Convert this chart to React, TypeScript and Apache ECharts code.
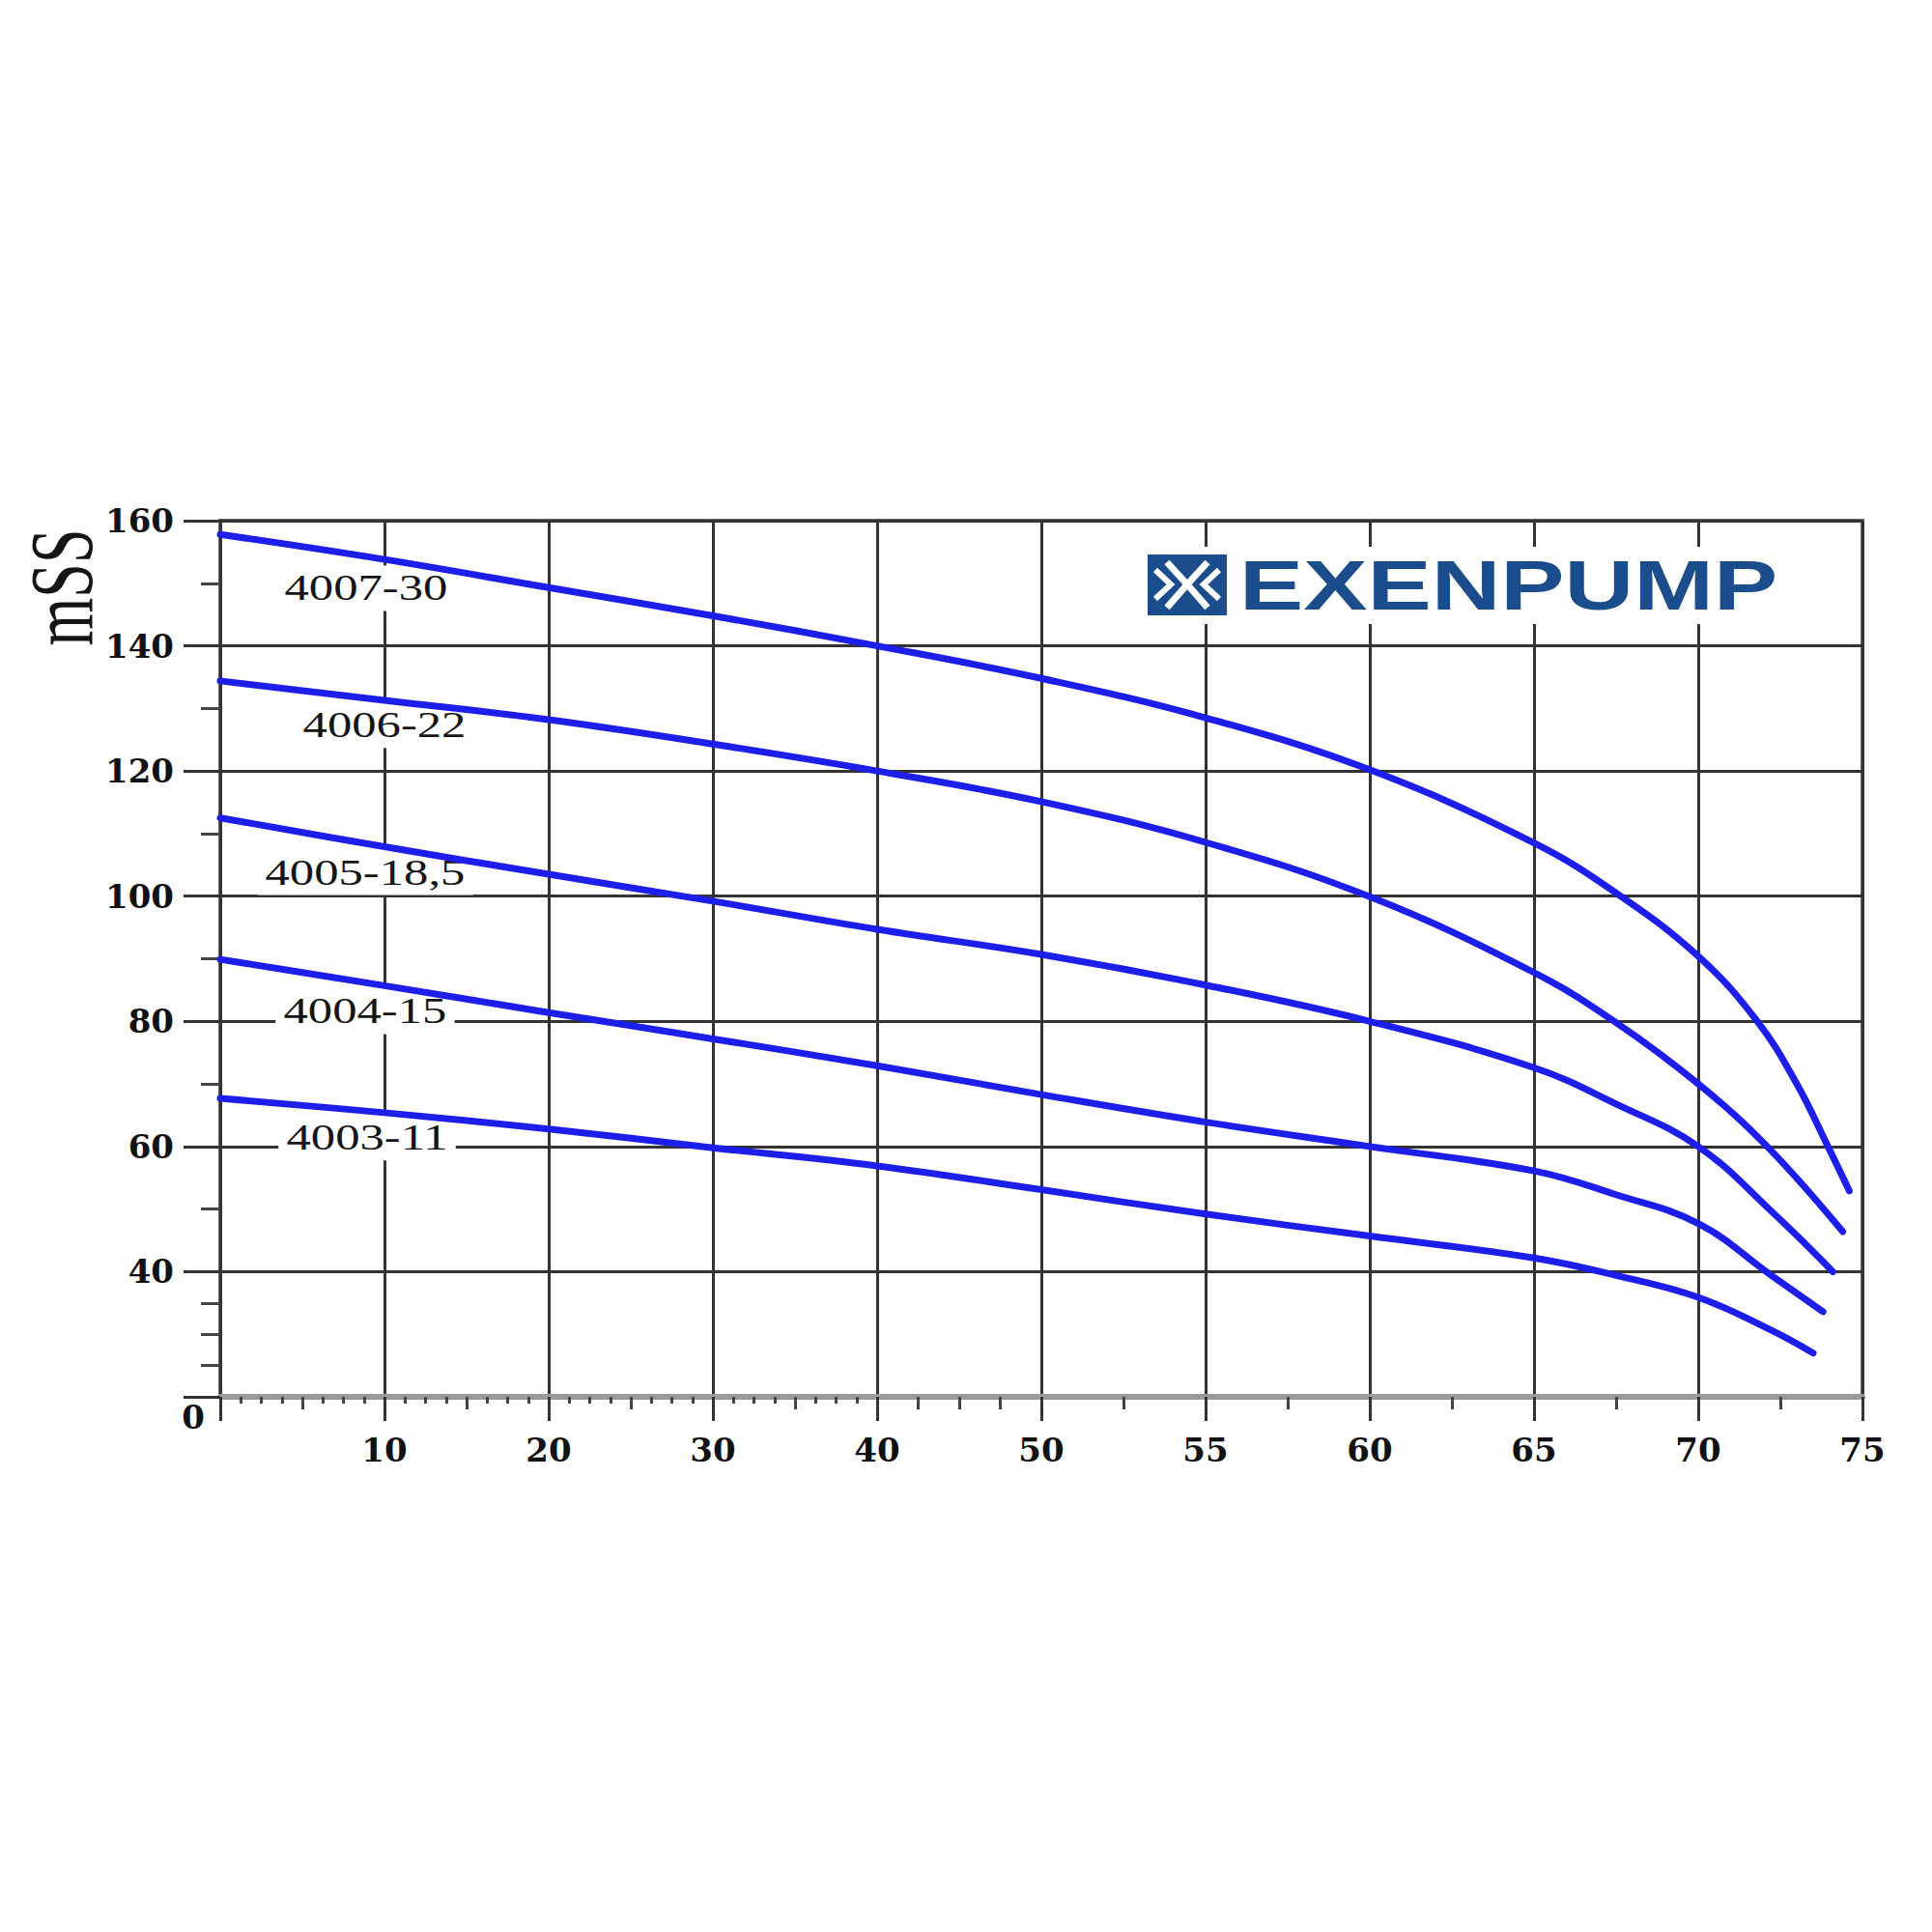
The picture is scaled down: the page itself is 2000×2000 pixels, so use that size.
import React, { useEffect, useRef } from "react";
import * as echarts from "echarts";

// ---- axis definitions ----
const xTickFlows = [0, 10, 20, 30, 40, 50, 55, 60, 65, 70, 75];
const xTickLabels = ["", "10", "20", "30", "40", "50", "55", "60", "65", "70", "75"];
const xSmallTicks = [
  1.25, 2.5, 3.75, 6.25, 7.5, 8.75,
  11.25, 12.5, 13.75, 16.25, 17.5, 18.75,
  21.25, 22.5, 23.75, 26.25, 27.5, 28.75,
  31.25, 32.5, 33.75, 36.25, 37.5, 38.75,
];
const xMidTicks = [5, 15, 25, 35, 42.5, 45, 47.5, 52.5, 57.5, 62.5, 67.5, 72.5];
const yTickValues = [20, 40, 60, 80, 100, 120, 140, 160];
const yTickLabels = ["0", "40", "60", "80", "100", "120", "140", "160"];
const yMinorTicks = [25, 30, 35, 50, 70, 90, 110, 130, 150];

// ---- curves ----
const curveNames = ["4007-30", "4006-22", "4005-18,5", "4004-15", "4003-11"];
const flow4007 = [0, 10, 20, 30, 40, 50, 55, 60, 65, 67.5, 70, 71.8, 73, 73.95, 74.6];
const head4007 = [157.8, 153.8, 149.3, 144.8, 140, 134.8, 128.5, 120.2, 108.5, 100.5, 90.4, 80, 70, 60, 52.9];
const flow4006 = [0, 10, 20, 30, 40, 50, 55, 60, 65, 67.5, 70, 72.1, 74.4];
const head4006 = [134.4, 131.3, 128.2, 124.3, 120, 115.1, 108.6, 99.9, 87.8, 79.8, 70, 60, 46.4];
const flow4005 = [0, 10, 20, 30, 40, 50, 55, 60, 65, 67.5, 70, 72.2, 74.1];
const head4005 = [112.5, 107.9, 103.5, 99.2, 94.7, 90.7, 85.8, 80, 72.6, 66.8, 60, 49.8, 40];
const flow4004 = [0, 10, 20, 30, 40, 50, 55, 60, 65, 67.5, 70, 72.2, 73.8];
const head4004 = [89.9, 85.7, 81.4, 77.2, 72.9, 68.3, 63.9, 60, 56.1, 52.3, 47.7, 39.5, 33.6];
const flow4003 = [0, 10, 20, 30, 40, 50, 55, 60, 65, 67.5, 70, 72.2, 73.5];
const head4003 = [67.7, 65.4, 62.8, 59.8, 56.9, 53.1, 49.2, 45.7, 42.2, 39.4, 35.9, 30.7, 27];

const curveFlows = [flow4007, flow4006, flow4005, flow4004, flow4003];
const curveHeads = [head4007, head4006, head4005, head4004, head4003];

// label anchor points (flow, head)
const labelFlows = [8.88, 10.0, 8.82, 8.82, 8.94];
const labelHeads = [149.2, 127.3, 103.8, 81.6, 61.4];

const LINE_BLUE = "#1e1eeb";
const GRID_DARK = "#333333";
const LOGO_BLUE = "#1b4c8c";

// piecewise mapping of flow to equally-spaced axis position
function toPos(q: number): number {
  for (let i = 0; i < xTickFlows.length - 1; i++) {
    const a = xTickFlows[i];
    const b = xTickFlows[i + 1];
    if (q <= b || i === xTickFlows.length - 2) {
      return i + (q - a) / (b - a);
    }
  }
  return 0;
}

const labelFont = {
  fontFamily: "'DejaVu Serif', serif",
  fontSize: 34,
  fontWeight: "bold" as const,
  color: "#111",
};

export default function App() {
  const ref = useRef<HTMLDivElement>(null);

  useEffect(() => {
    document.body.style.margin = "0";
    if (!ref.current) return;
    const chart = echarts.init(ref.current, null, { renderer: "svg" });

    const series = curveNames.map((name, i) => ({
      name,
      type: "line",
      xAxisIndex: 0,
      yAxisIndex: 0,
      showSymbol: false,
      smooth: 0.4,
      z: 5,
      lineStyle: { color: LINE_BLUE, width: 7, cap: "round", join: "round" },
      data: curveFlows[i].map((f, j) => [toPos(f), curveHeads[i][j]]),
    }));

    const option: any = {
      animation: false,
      backgroundColor: "#ffffff",
      grid: {
        left: 228,
        top: 539,
        width: 1700,
        height: 907,
        show: true,
        borderColor: "#666",
        borderWidth: 4,
        backgroundColor: "transparent",
      },
      xAxis: [
        {
          type: "value",
          min: 0,
          max: xTickFlows.length - 1,
          interval: 1,
          position: "bottom",
          axisLine: { show: true, lineStyle: { color: "#9a9a9a", width: 6 } },
          axisTick: { show: true, length: 25, lineStyle: { color: GRID_DARK, width: 3 } },
          splitLine: { show: true, lineStyle: { color: GRID_DARK, width: 3 } },
          axisLabel: {
            ...labelFont,
            margin: 38,
            formatter: (v: number) => xTickLabels[Math.round(v)] ?? "",
          },
        },
        {
          type: "value",
          min: 0,
          max: xTickFlows.length - 1,
          position: "bottom",
          axisLine: { show: false },
          axisLabel: { show: false },
          splitLine: { show: false },
          axisTick: {
            show: true,
            length: 7,
            customValues: xSmallTicks.map(toPos),
            lineStyle: { color: "#444", width: 3 },
          },
        },
        {
          type: "value",
          min: 0,
          max: xTickFlows.length - 1,
          position: "bottom",
          axisLine: { show: false },
          axisLabel: { show: false },
          splitLine: { show: false },
          axisTick: {
            show: true,
            length: 13,
            customValues: xMidTicks.map(toPos),
            lineStyle: { color: "#444", width: 3 },
          },
        },
      ],
      yAxis: [
        {
          type: "value",
          min: 20,
          max: 160,
          interval: 20,
          position: "left",
          axisLine: { show: true, lineStyle: { color: GRID_DARK, width: 3 } },
          axisTick: { show: true, length: 38, lineStyle: { color: GRID_DARK, width: 3 } },
          splitLine: { show: true, lineStyle: { color: GRID_DARK, width: 3 } },
          axisLabel: {
            ...labelFont,
            margin: 16,
            formatter: (v: number) => {
              const idx = yTickValues.indexOf(v);
              const t = idx >= 0 ? yTickLabels[idx] : "";
              return idx === 0 ? `{z|${t}}` : `{a|${t}}`;
            },
            rich: {
              a: { ...labelFont, padding: [0, 32, 0, 0] },
              z: { ...labelFont, padding: [42, 0, 0, 0] },
            },
          },
        },
        {
          type: "value",
          min: 20,
          max: 160,
          position: "left",
          axisLine: { show: false },
          axisLabel: { show: false },
          splitLine: { show: false },
          axisTick: {
            show: true,
            length: 20,
            customValues: yMinorTicks,
            lineStyle: { color: "#444", width: 3 },
          },
        },
      ],
      series,
    };

    chart.setOption(option);

    const labelGraphics = curveNames.map((name, i) => {
      const p = chart.convertToPixel({ seriesIndex: 0 }, [toPos(labelFlows[i]), labelHeads[i]]) as number[];
      return {
        type: "text",
        x: p[0],
        y: p[1],
        scaleX: 1.37,
        z: 3,
        style: {
          text: name,
          fontFamily: "'Liberation Serif', serif",
          fontSize: 37,
          fill: "#151515",
          align: "center",
          verticalAlign: "middle",
          backgroundColor: "#ffffff",
          padding: [6, 6, 4, 6],
        },
      };
    });

    const staticGraphics: any[] = [
      // y axis title
      {
        type: "text",
        x: 64,
        y: 608,
        rotation: Math.PI / 2,
        scaleY: 1.45,
        z: 60,
        style: {
          text: "mSS",
          fontFamily: "'Liberation Serif', serif",
          fontSize: 64,
          fill: "#151515",
          align: "center",
          verticalAlign: "middle",
        },
      },
      // logo backdrop
      {
        type: "rect",
        z: 50,
        shape: { x: 1178, y: 566, width: 672, height: 80 },
        style: { fill: "#ffffff" },
      },
      // logo icon
      {
        type: "group",
        x: 1188,
        y: 574,
        z: 55,
        children: [
          { type: "rect", z: 55, shape: { x: 0, y: 0, width: 82, height: 63 }, style: { fill: LOGO_BLUE } },
          { type: "polyline", z: 56, shape: { points: [[20, 8], [41, 31], [62, 8]] }, style: { stroke: "#ffffff", lineWidth: 7, fill: "none" } },
          { type: "polyline", z: 56, shape: { points: [[20, 55], [41, 31], [62, 55]] }, style: { stroke: "#ffffff", lineWidth: 7, fill: "none" } },
          { type: "polyline", z: 56, shape: { points: [[8, 16], [24, 31], [8, 46]] }, style: { stroke: "#ffffff", lineWidth: 6, fill: "none" } },
          { type: "polyline", z: 56, shape: { points: [[74, 16], [58, 31], [74, 46]] }, style: { stroke: "#ffffff", lineWidth: 6, fill: "none" } },
        ],
      },
      // logo text
      {
        type: "text",
        x: 1283,
        y: 605,
        scaleX: 1.36,
        z: 55,
        style: {
          text: "EXENPUMP",
          fontFamily: "'Liberation Sans', Arial, sans-serif",
          fontWeight: "bold",
          fontSize: 73,
          fill: LOGO_BLUE,
          align: "left",
          verticalAlign: "middle",
        },
      },
    ];

    chart.setOption({ graphic: [...staticGraphics, ...labelGraphics] });

    return () => {
      chart.dispose();
    };
  }, []);

  return (
    <div
      ref={ref}
      style={{ position: "absolute", left: 0, top: 0, width: 2000, height: 2000, background: "#fff" }}
    />
  );
}
